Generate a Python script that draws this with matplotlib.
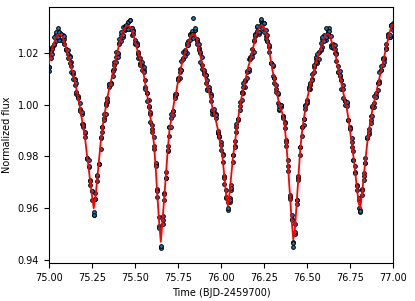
# light curve with model fit
import matplotlib
matplotlib.use("Agg")
from matplotlib import pyplot as plt

# time (BJD-2459700)
time = [
    75.00, 75.01, 75.02, 75.03, 75.04, 75.05, 75.06, 75.07, 75.08, 75.09,
    75.10, 75.11, 75.12, 75.13, 75.14, 75.15, 75.16, 75.17, 75.18, 75.19,
    75.20, 75.21, 75.22, 75.23, 75.24, 75.25, 75.26, 75.27, 75.28, 75.29,
    75.30, 75.31, 75.32, 75.33, 75.34, 75.35, 75.36, 75.37, 75.38, 75.39,
    75.40, 75.41, 75.42, 75.43, 75.44, 75.45, 75.46, 75.47, 75.48, 75.49,
    75.50, 75.51, 75.52, 75.53, 75.54, 75.55, 75.56, 75.57, 75.58, 75.59,
    75.60, 75.61, 75.62, 75.63, 75.64, 75.65, 75.66, 75.67, 75.68, 75.69,
    75.70, 75.71, 75.72, 75.73, 75.74, 75.75, 75.76, 75.77, 75.78, 75.79,
    75.80, 75.81, 75.82, 75.83, 75.84, 75.85, 75.86, 75.87, 75.88, 75.89,
    75.90, 75.91, 75.92, 75.93, 75.94, 75.95, 75.96, 75.97, 75.98, 75.99,
    76.00, 76.01, 76.02, 76.03, 76.04, 76.05, 76.06, 76.07, 76.08, 76.09,
    76.10, 76.11, 76.12, 76.13, 76.14, 76.15, 76.16, 76.17, 76.18, 76.19,
    76.20, 76.21, 76.22, 76.23, 76.24, 76.25, 76.26, 76.27, 76.28, 76.29,
    76.30, 76.31, 76.32, 76.33, 76.34, 76.35, 76.36, 76.37, 76.38, 76.39,
    76.40, 76.41, 76.42, 76.43, 76.44, 76.45, 76.46, 76.47, 76.48, 76.49,
    76.50, 76.51, 76.52, 76.53, 76.54, 76.55, 76.56, 76.57, 76.58, 76.59,
    76.60, 76.61, 76.62, 76.63, 76.64, 76.65, 76.66, 76.67, 76.68, 76.69,
    76.70, 76.71, 76.72, 76.73, 76.74, 76.75, 76.76, 76.77, 76.78, 76.79,
    76.80, 76.81, 76.82, 76.83, 76.84, 76.85, 76.86, 76.87, 76.88, 76.89,
    76.90, 76.91, 76.92, 76.93, 76.94, 76.95, 76.96, 76.97, 76.98, 76.99,
    77.00,
]

# best-fit model
model = [
    1.016, 1.019, 1.022, 1.024, 1.026, 1.027, 1.0272, 1.027, 1.026, 1.024,
    1.022, 1.019, 1.017, 1.014, 1.012, 1.009, 1.006, 1.002, 0.999, 0.995,
    0.991, 0.987, 0.981, 0.976, 0.970, 0.965, 0.960, 0.964, 0.971, 0.978,
    0.985, 0.991, 0.995, 0.999, 1.003, 1.006, 1.009, 1.012, 1.015, 1.018,
    1.021, 1.024, 1.026, 1.028, 1.0295, 1.0303, 1.0306, 1.0302, 1.029, 1.027,
    1.025, 1.022, 1.020, 1.017, 1.014, 1.012, 1.008, 1.004, 1.000, 0.995,
    0.991, 0.985, 0.976, 0.965, 0.955, 0.947, 0.955, 0.964, 0.973, 0.982,
    0.990, 0.994, 0.998, 1.002, 1.005, 1.009, 1.012, 1.015, 1.018, 1.020,
    1.022, 1.024, 1.026, 1.027, 1.0272, 1.027, 1.025, 1.022, 1.019, 1.016,
    1.013, 1.010, 1.007, 1.005, 1.002, 0.999, 0.997, 0.994, 0.991, 0.987,
    0.984, 0.979, 0.972, 0.965, 0.961, 0.966, 0.973, 0.980, 0.985, 0.990,
    0.995, 0.999, 1.003, 1.006, 1.009, 1.012, 1.015, 1.017, 1.020, 1.023,
    1.026, 1.028, 1.0295, 1.0305, 1.0306, 1.030, 1.028, 1.025, 1.021, 1.017,
    1.013, 1.010, 1.006, 1.003, 1.000, 0.998, 0.996, 0.992, 0.985, 0.976,
    0.966, 0.956, 0.948, 0.952, 0.962, 0.972, 0.982, 0.989, 0.994, 0.998,
    1.002, 1.005, 1.008, 1.011, 1.013, 1.016, 1.018, 1.020, 1.022, 1.024,
    1.026, 1.027, 1.0272, 1.027, 1.025, 1.023, 1.021, 1.018, 1.014, 1.011,
    1.008, 1.005, 1.002, 0.999, 0.995, 0.990, 0.985, 0.980, 0.974, 0.968,
    0.962, 0.960, 0.966, 0.972, 0.979, 0.985, 0.990, 0.994, 0.998, 1.001,
    1.004, 1.007, 1.010, 1.013, 1.016, 1.019, 1.022, 1.025, 1.028, 1.030,
    1.031,
]

# observed flux, three exposures per time stamp
flux_a = [
    1.013, 1.018, 1.0225, 1.026, 1.0245, 1.027, 1.0282, 1.025, 1.027, 1.0235,
    1.021, 1.0195, 1.019, 1.0125, 1.012, 1.010, 1.004, 1.003, 0.9985, 0.9965,
    0.9915, 0.989, 0.9795, 0.976, 0.971, 0.963, 0.9585, 0.9635, 0.9725, 0.977,
    0.987, 0.9895, 0.995, 1.000, 1.001, 1.007, 1.0085, 1.0135, 1.014, 1.0185,
    1.0195, 1.024, 1.027, 1.026, 1.0305, 1.0298, 1.0321, 1.0292, 1.0295, 1.029,
    1.025, 1.023, 1.018, 1.018, 1.0135, 1.0135, 1.007, 1.0045, 1.002, 0.9935,
    0.992, 0.983, 0.977, 0.9645, 0.9565, 0.945, 0.9555, 0.966, 0.9715, 0.982,
    0.988, 0.995, 0.9975, 1.0035, 1.004, 1.0095, 1.014, 1.0135, 1.018, 1.021,
    1.023, 1.0235, 1.0275, 1.026, 1.0277, 1.029, 1.0235, 1.022, 1.020, 1.014,
    1.0125, 1.0115, 1.006, 1.0055, 1.004, 0.9975, 0.997, 0.995, 0.989, 0.988,
    0.9855, 0.978, 0.9725, 0.967, 0.9595, 0.9625, 0.969, 0.978, 0.986, 0.9895,
    0.994, 0.9995, 1.005, 1.0045, 1.009, 1.013, 1.013, 1.018, 1.0195, 1.0245,
    1.0265, 1.030, 1.028, 1.0325, 1.0316, 1.028, 1.029, 1.0245, 1.0225, 1.016,
    1.015, 1.0085, 1.006, 1.004, 0.998, 0.999, 0.9955, 0.9935, 0.984, 0.9765,
    0.9645, 0.956, 0.947, 0.950, 0.963, 0.9715, 0.9835, 0.988, 0.9945, 1.000,
    1.002, 1.006, 1.006, 1.012, 1.0125, 1.0175, 1.017, 1.0205, 1.024, 1.0225,
    1.027, 1.025, 1.0282, 1.0265, 1.0265, 1.022, 1.0215, 1.020, 1.0125, 1.011,
    1.006, 1.006, 1.0015, 1.0005, 0.994, 0.9905, 0.987, 0.9785, 0.974, 0.969,
    0.963, 0.9585, 0.9675, 0.971, 0.9795, 0.987, 0.9885, 0.994, 0.999, 0.999,
    1.0035, 1.0085, 1.009, 1.0135, 1.018, 1.0175, 1.022, 1.026, 1.026, 1.031,
    1.0315,
]

flux_b = [
    1.0145, 1.021, 1.0215, 1.023, 1.0275, 1.0295, 1.0252, 1.0275, 1.025, 1.0255,
    1.0215, 1.018, 1.0185, 1.0165, 1.010, 1.0095, 1.005, 1.0035, 0.9975, 0.997,
    0.9925, 0.9895, 0.979, 0.9765, 0.969, 0.9665, 0.9575, 0.966, 0.9705, 0.977,
    0.983, 0.9915, 0.994, 1.0005, 1.0015, 1.008, 1.0085, 1.011, 1.0165, 1.0205,
    1.020, 1.0255, 1.0245, 1.030, 1.029, 1.0293, 1.0321, 1.0327, 1.027, 1.0275,
    1.0235, 1.024, 1.0195, 1.016, 1.0155, 1.0145, 1.006, 1.0045, 0.999, 0.9965,
    0.9905, 0.984, 0.9775, 0.9675, 0.953, 0.9445, 0.954, 0.9655, 0.9715, 0.984,
    0.9915, 0.9965, 0.996, 1.0025, 1.004, 1.0105, 1.0105, 1.017, 1.0175, 1.019,
    1.020, 1.0245, 1.025, 1.0285, 1.0335, 1.029, 1.0245, 1.021, 1.0205, 1.0185,
    1.012, 1.0115, 1.0055, 1.007, 1.0015, 0.998, 0.9985, 0.9965, 0.989, 0.9875,
    0.9825, 0.981, 0.9715, 0.964, 0.9625, 0.964, 0.967, 0.9805, 0.984, 0.9915,
    0.9945, 0.998, 1.0045, 1.0085, 1.007, 1.0125, 1.014, 1.0185, 1.0185, 1.025,
    1.0275, 1.0305, 1.0275, 1.031, 1.0296, 1.0315, 1.0265, 1.027, 1.0205, 1.016,
    1.011, 1.0105, 1.005, 1.0045, 0.9985, 1.000, 0.9955, 0.991, 0.9865, 0.9785,
    0.965, 0.9575, 0.945, 0.954, 0.9615, 0.971, 0.9835, 0.9915, 0.992, 0.9985,
    1.0005, 1.007, 1.0075, 1.010, 1.0145, 1.0185, 1.016, 1.0205, 1.021, 1.0255,
    1.0255, 1.026, 1.0287, 1.0295, 1.023, 1.0235, 1.020, 1.0195, 1.0125, 1.013,
    1.0095, 1.0075, 1.000, 0.9995, 0.994, 0.9915, 0.9835, 0.982, 0.9735, 0.967,
    0.960, 0.9595, 0.965, 0.9735, 0.9775, 0.987, 0.9895, 0.993, 0.9995, 1.0035,
    1.003, 1.0085, 1.0085, 1.015, 1.0155, 1.018, 1.0235, 1.0275, 1.026, 1.0305,
    1.029,
]

flux_c = [
    1.0145, 1.0205, 1.0195, 1.0235, 1.028, 1.026, 1.0282, 1.0275, 1.0245, 1.0265,
    1.0215, 1.021, 1.016, 1.015, 1.0125, 1.0075, 1.0085, 1.0025, 1.0005, 0.9925,
    0.992, 0.9875, 0.9795, 0.9785, 0.9705, 0.9665, 0.9575, 0.9635, 0.973, 0.977,
    0.9875, 0.9915, 0.9965, 0.9965, 1.0025, 1.008, 1.008, 1.013, 1.0155, 1.0165,
    1.0185, 1.0235, 1.028, 1.027, 1.0305, 1.0308, 1.0291, 1.0327, 1.0295, 1.0285,
    1.024, 1.023, 1.0205, 1.0155, 1.0165, 1.0125, 1.0095, 1.0015, 0.9995, 0.997,
    0.9895, 0.9875, 0.9765, 0.9665, 0.9525, 0.9455, 0.957, 0.963, 0.974, 0.9825,
    0.9915, 0.9915, 0.9975, 1.004, 1.004, 1.010, 1.0125, 1.0135, 1.0205, 1.0205,
    1.024, 1.023, 1.027, 1.0275, 1.0257, 1.0295, 1.0255, 1.0235, 1.0165, 1.0155,
    1.0135, 1.0085, 1.0095, 1.0055, 1.0035, 0.9965, 0.9965, 0.996, 0.990, 0.988,
    0.9845, 0.9805, 0.9695, 0.9645, 0.960, 0.963, 0.968, 0.9805, 0.9835, 0.9925,
    0.9945, 1.001, 1.002, 1.007, 1.0095, 1.0105, 1.0175, 1.0175, 1.0215, 1.0205,
    1.027, 1.0285, 1.028, 1.033, 1.0311, 1.0315, 1.0255, 1.0245, 1.023, 1.016,
    1.0155, 1.0105, 1.0075, 1.0005, 0.9995, 1.000, 0.995, 0.993, 0.9855, 0.9745,
    0.9635, 0.9555, 0.9465, 0.951, 0.963, 0.9725, 0.9805, 0.9915, 0.9945, 0.9995,
    1.001, 1.006, 1.0085, 1.0095, 1.0155, 1.0165, 1.0195, 1.0175, 1.0215, 1.026,
    1.0245, 1.0295, 1.0277, 1.0285, 1.0225, 1.0225, 1.023, 1.017, 1.015, 1.0115,
    1.0095, 1.0025, 1.0015, 1.001, 0.994, 0.991, 0.9855, 0.9785, 0.9765, 0.9685,
    0.964, 0.959, 0.967, 0.9725, 0.9775, 0.9875, 0.9905, 0.9955, 0.9955, 1.0005,
    1.0045, 1.0055, 1.0125, 1.0135, 1.0175, 1.0165, 1.0215, 1.027, 1.027, 1.031,
    1.0305,
]

x_ticks = [75.00, 75.25, 75.50, 75.75, 76.00, 76.25, 76.50, 76.75, 77.00]
y_ticks = [0.94, 0.96, 0.98, 1.00, 1.02]

plt.rcParams['font.size'] = 7

fig = plt.figure(figsize=(4.15, 3.01), dpi=100)
ax = fig.add_axes([0.118, 0.126, 0.829, 0.851])

for f in (flux_a, flux_b, flux_c):
    ax.plot(time, f, 'o', ms=2.7, mfc='C0', mec='k', mew=0.7, zorder=2)
ax.plot(time, model, color='red', lw=1.3, zorder=3)

ax.set_xlim(75.0, 77.0)
ax.set_ylim(0.9388, 1.0378)
ax.set_xticks(x_ticks)
ax.set_xticklabels(["%.2f" % v for v in x_ticks])
ax.set_yticks(y_ticks)
ax.set_yticklabels(["%.2f" % v for v in y_ticks])
ax.set_xlabel("Time (BJD-2459700)")
ax.set_ylabel("Normalized flux")

fig.savefig("out.png", dpi=100)
